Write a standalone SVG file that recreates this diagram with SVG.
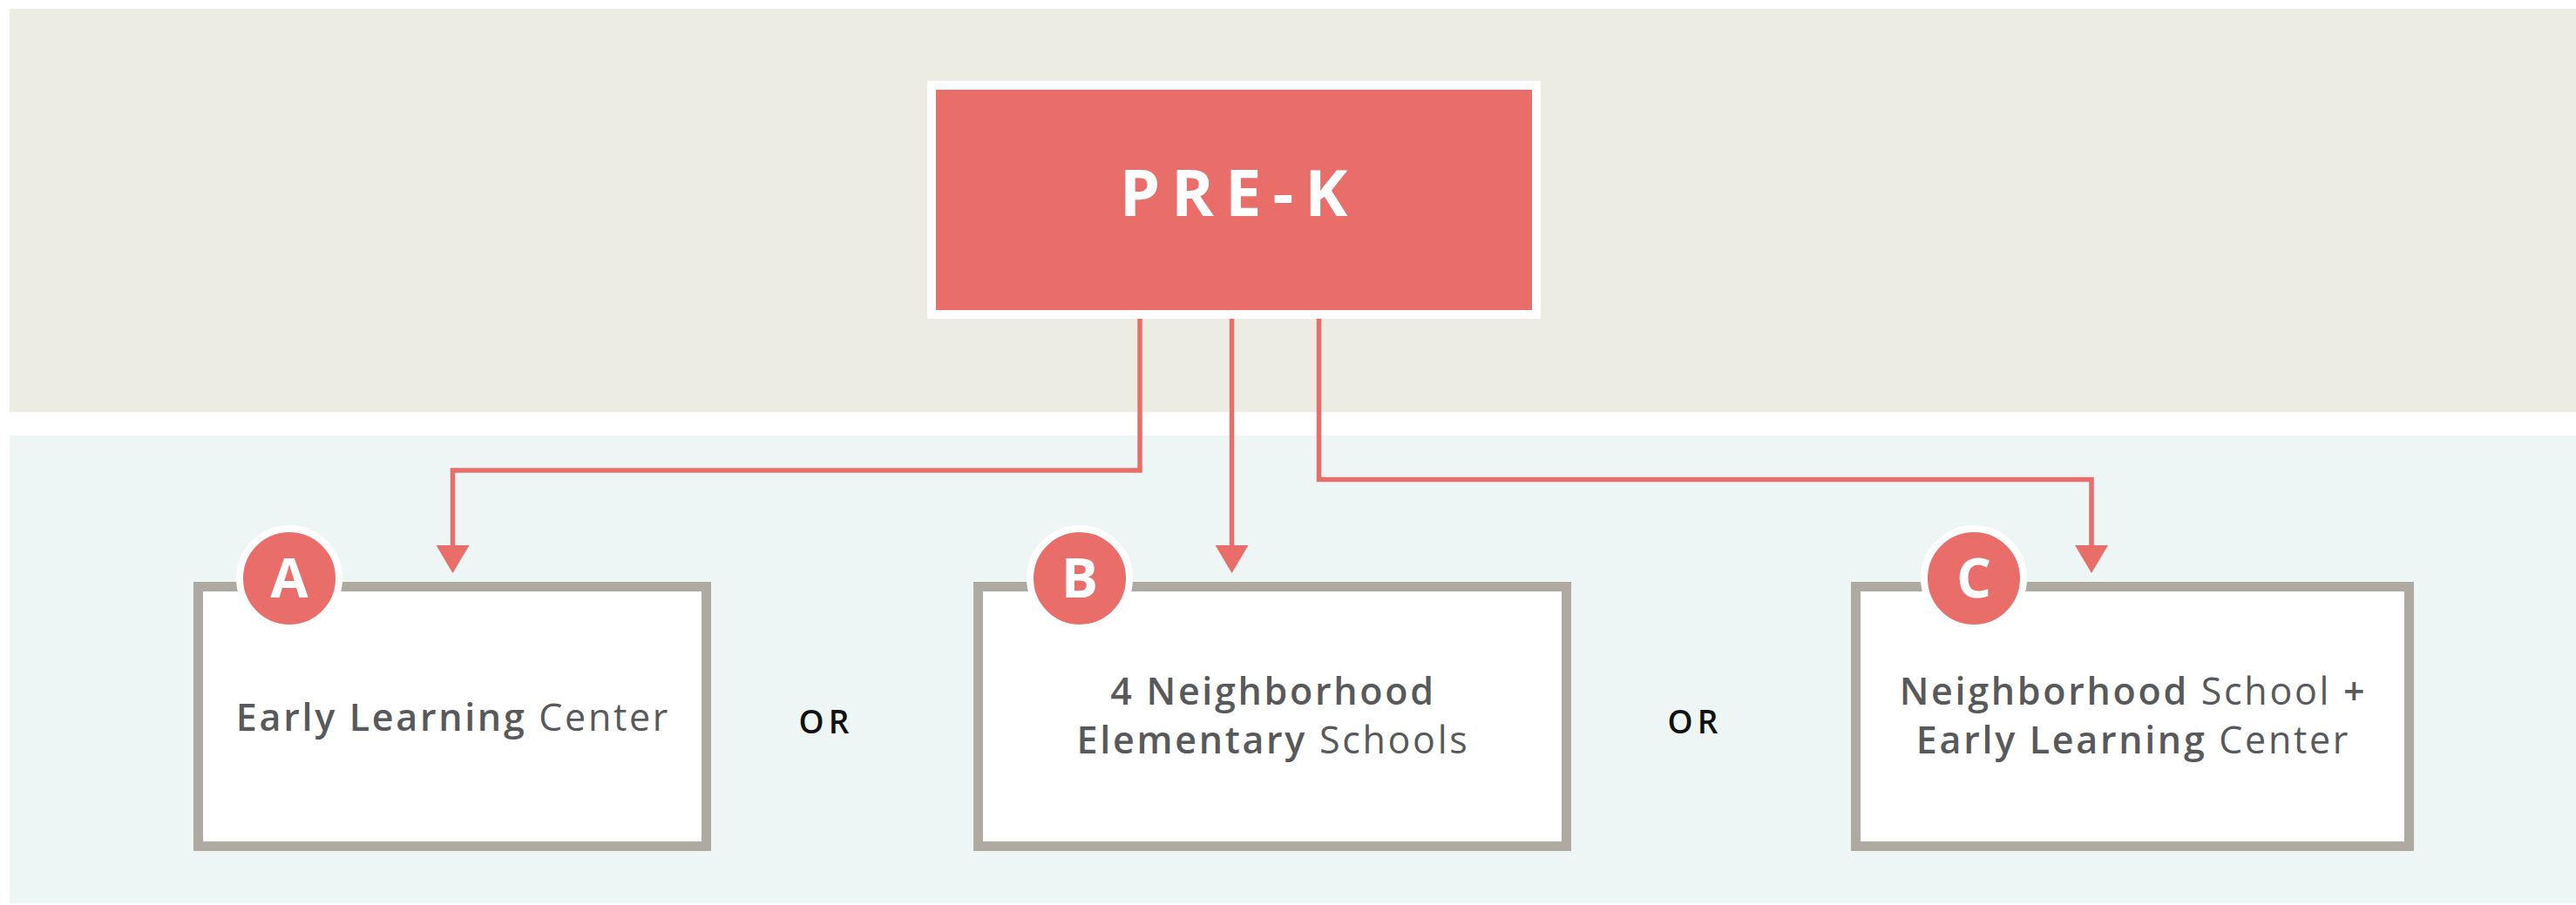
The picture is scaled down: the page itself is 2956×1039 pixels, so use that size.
<svg xmlns="http://www.w3.org/2000/svg" width="2956" height="1039" viewBox="0 0 2956 1039">
  <defs>
    <style>
      .bg-top { fill: #ECECE3; }
      .bg-bot { fill: #EDF6F4; }
      .prek-frame { fill: #FFFFFF; }
      .prek { fill: #E96D69; }
      .prek-text { font-family: "Open Sans", "Liberation Sans", sans-serif; font-weight: 700; font-size: 74px; fill: #FFFFFF; letter-spacing: 13px; }
      .box { fill: #FFFFFF; stroke: #AEAAA2; stroke-width: 11; }
      .badge { fill: #E96D69; stroke: #FFFFFF; stroke-width: 8; }
      .badge-text { font-family: "Open Sans", "Liberation Sans", sans-serif; font-weight: 700; font-size: 63px; fill: #FFFFFF; text-anchor: middle; }
      .label { font-family: "Open Sans", "Liberation Sans", sans-serif; font-size: 43px; fill: #58595B; text-anchor: middle; letter-spacing: 2.7px; }
      .b { font-weight: 600; }
      .r { font-weight: 400; }
      .or { font-family: "Open Sans", "Liberation Sans", sans-serif; font-weight: 600; font-size: 37px; fill: #111111; letter-spacing: 5px; }
      .conn { fill: none; stroke: #E96D69; stroke-width: 5.5; stroke-linejoin: miter; }
    </style>
    <marker id="arrow" viewBox="0 0 32 38" refX="0" refY="19" markerWidth="32" markerHeight="38" markerUnits="userSpaceOnUse" orient="auto">
      <path d="M0,0 L32,19 L0,38 Z" fill="#E96D69"/>
    </marker>
  </defs>

  <rect class="bg-top" x="11" y="10" width="2945" height="463"/>
  <rect class="bg-bot" x="11" y="500" width="2945" height="537"/>

  <g id="connectors">
    <path class="conn" d="M1308,366 V540 H519.5 V626" marker-end="url(#arrow)"/>
    <path class="conn" d="M1413.5,366 V626" marker-end="url(#arrow)"/>
    <path class="conn" d="M1513.5,366 V550.5 H2400 V626" marker-end="url(#arrow)"/>
  </g>

  <g id="prek">
    <rect class="prek-frame" x="1064" y="93" width="704" height="273"/>
    <rect class="prek" x="1074" y="103" width="684" height="253"/>
    <text class="prek-text" x="1422" y="248" text-anchor="middle">PRE-K</text>
  </g>

  <g id="option-a">
    <rect class="box" x="227.5" y="673.5" width="583" height="298"/>
    <circle class="badge" cx="332" cy="664" r="57"/>
    <text class="badge-text" x="332" y="686">A</text>
    <text class="label" x="520" y="839"><tspan class="b">Early Learning</tspan> <tspan class="r">Center</tspan></text>
  </g>

  <g id="or-1">
    <text class="or" x="948" y="842" text-anchor="middle">OR</text>
  </g>

  <g id="option-b">
    <rect class="box" x="1122.5" y="673.5" width="675" height="298"/>
    <circle class="badge" cx="1239" cy="664" r="57"/>
    <text class="badge-text" x="1239" y="686">B</text>
    <text class="label" x="1461" y="809"><tspan class="b">4 Neighborhood</tspan></text>
    <text class="label" x="1461" y="865"><tspan class="b">Elementary</tspan> <tspan class="r">Schools</tspan></text>
  </g>

  <g id="or-2">
    <text class="or" x="1945" y="842" text-anchor="middle">OR</text>
  </g>

  <g id="option-c">
    <rect class="box" x="2129.5" y="673.5" width="635" height="298"/>
    <circle class="badge" cx="2265" cy="664" r="57"/>
    <text class="badge-text" x="2265" y="686">C</text>
    <text class="label" x="2448" y="809"><tspan class="b">Neighborhood</tspan> <tspan class="r">School</tspan> <tspan class="b">+</tspan></text>
    <text class="label" x="2448" y="865"><tspan class="b">Early Learning</tspan> <tspan class="r">Center</tspan></text>
  </g>
</svg>
